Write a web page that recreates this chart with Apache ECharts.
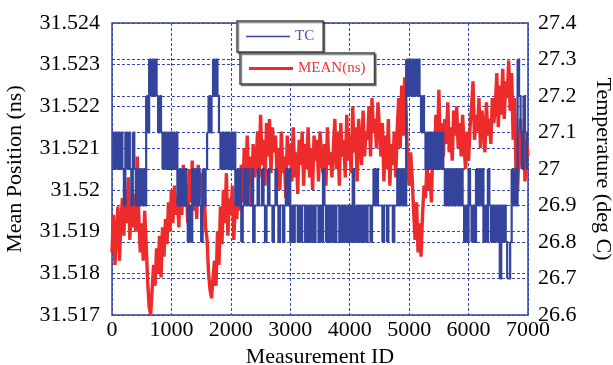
<!DOCTYPE html>
<html>
<head>
<meta charset="utf-8">
<script src="https://cdn.jsdelivr.net/npm/echarts@6/dist/echarts.min.js"></script>
<style>
  html, body { margin: 0; padding: 0; background: #fff; }
  #chart { width: 613px; height: 365px; }
</style>
</head>
<body>
<div id="chart"></div>
<script>
// one sample every STEP measurement ids, from 0 to 7000
const STEP = 25;

// MEAN(ns) as tenths of a picosecond above 31.517 ns
const meanOffset = [
  15, 24, 12, 20, 26, 13, 22,
  28, 19, 30, 22, 33, 18, 27, 21, 29, 20,
  38,
  24, 15, 22, 13, 25, 17,
  8, 2, 0, 6,
  12, 7, 16, 10, 19, 9, 21, 14, 23, 17,
  27, 20, 30, 22, 31, 24, 28, 21,
  33, 24, 36, 26, 31, 22, 35, 27, 37, 25, 32, 23, 36, 28, 34, 26, 30, 21,
  18, 10, 6, 4, 9, 13, 7,
  20, 12, 26, 17, 30, 22, 34, 19, 28, 24, 31, 18, 27, 23, 32, 25,
  36, 27, 40, 29, 43, 31, 38, 26, 41, 33, 37,
  44, 33, 48, 36, 42, 31, 46, 38, 47, 34, 45, 39, 43, 35,
  40, 30, 44, 34, 38, 28, 43, 36, 41, 32, 45, 33, 39, 29, 42,
  36, 44, 31, 41, 35, 45, 33, 40, 30, 43, 37, 42, 32, 44, 38, 34, 41, 31, 45, 36, 39, 33,
  40, 47, 35, 44, 31, 46, 38, 42, 33, 48, 37, 43, 34, 50, 39, 45, 32, 47, 41, 36, 49, 38, 44,
  42, 50, 38, 52, 44, 47, 40, 51, 45,
  38, 46, 32, 43, 35, 47, 31, 41, 36, 44, 33,
  45, 52, 40, 55, 43, 57, 48,
  36, 31, 39, 33,
  25, 18, 27, 15, 22, 14,
  24, 31, 28, 36, 30, 34, 27,
  42, 35, 48, 38, 54, 40, 46,
  38, 47, 41, 51, 39, 45, 37, 49, 43, 50, 40, 46, 38, 48,
  40, 35, 44, 37, 45,
  50, 56, 42, 48,
  44, 52, 40, 49, 45, 39, 51, 43, 47, 41, 52, 46,
  50, 58, 45, 55, 48, 59, 47, 56, 52, 61, 49,
  58, 42, 52,
  33, 30,
  40, 47, 35, 44, 32, 42, 38
];

// TC level codes: temperature = 26.6 + code * 0.1 deg C
const tcLevel = [
  5, 4, 5, 4, 5, 4, 5,
  4, 3,
  5, 4, 5,
  4, 3,
  5, 4,
  3, 4, 3, 4, 3, 4, 3,
  6, 5,
  7, 6, 7, 6, 7, 6,
  5, 6, 5,
  4, 5, 4, 5, 4, 5, 4, 5, 4, 5,
  3, 4, 3, 4, 3, 4, 3, 2,
  3, 2, 4, 3, 4, 3, 4, 3, 2, 4, 3, 4,
  5, 6, 5, 6,
  7, 6, 7, 6,
  5, 4, 5, 4, 5, 4, 5, 4, 5, 4, 5,
  3, 4, 3, 4, 2, 3, 4, 3,
  4, 3, 3, 4, 2, 3, 3, 4, 3, 3, 4, 3, 2,
  3, 4, 3, 3, 2, 3, 4, 3, 2, 3, 3,
  2, 3, 4, 3, 4, 2, 3, 2, 3, 3,
  2, 3, 2, 3, 3, 2, 3, 2, 3, 2,
  3, 2, 3, 3, 2, 3, 2, 4, 3, 2,
  3, 2, 3, 2, 3, 2, 3, 3, 2, 3,
  2, 3, 2, 3, 2, 3, 2, 4, 2, 3,
  2, 3, 2, 3, 2, 3, 2, 3, 3, 2, 3,
  4, 3, 4, 3,
  3, 3, 2, 3, 3, 2, 3, 3, 3, 2, 3, 3,
  4, 3, 4, 3, 4, 3,
  7, 6, 7, 6, 7, 6, 7, 6, 7,
  6, 5, 6,
  5, 4, 5, 4, 5, 4, 5, 4, 5, 4, 5, 4, 5,
  4, 3, 4, 3, 4, 3, 4, 3, 4, 3, 4, 3, 4,
  3, 2, 3, 2,
  4,
  3, 2, 3, 2,
  4, 3, 4, 3, 4, 2, 3, 2, 4,
  3, 2, 3, 2, 3, 2, 3,
  1,
  3, 2, 3, 2, 1, 1, 2,
  4, 3, 4, 3,
  7, 6,
  5, 4, 6, 5, 4, 5
];

const xRange = [0, 7000, 1000];
const meanRange = [31.517, 31.524, 0.001];
const tempRange = [26.6, 27.4, 0.1];

const FONT = 'Liberation Serif';
const BLUE = '#34449c';
const RED = '#ee2b2b';
const GRID = '#3848a8';

const meanData = meanOffset.map((u, i) => [i * STEP, 31.517 + u / 10000]);
const tcTemp = tcLevel.map(c => 26.6 + c / 10);
// each TC step: [id, temperature, temperature of the next sample]
const tcSteps = tcTemp.slice(0, -1).map((t, i) => [i * STEP, t, tcTemp[i + 1]]);

const chart = echarts.init(document.getElementById('chart'), null, { renderer: 'canvas' });

const dashed = { show: true, lineStyle: { color: GRID, type: [3, 2], width: 1 } };
const legendBox = {
  orient: 'horizontal',
  icon: 'rect',
  itemWidth: 44,
  itemGap: 5,
  padding: [8, 9, 8, 9],
  backgroundColor: '#fff',
  borderColor: '#444',
  borderWidth: 1.5,
  borderRadius: 0,
  shadowColor: 'rgba(0,0,0,0.45)',
  shadowOffsetX: 1.5,
  shadowOffsetY: 1.5,
  selectedMode: false,
  textStyle: { fontFamily: FONT, fontSize: 15, lineHeight: 14 }
};

chart.setOption({
  animation: false,
  backgroundColor: '#fff',
  grid: {
    left: 112, right: 85, top: 23, bottom: 50,
    containLabel: false,
    outerBoundsMode: 'none',
    show: true, borderColor: BLUE, borderWidth: 1.5
  },
  legend: [
    Object.assign({}, legendBox, {
      left: 237, top: 21, itemHeight: 1.5,
      data: [{ name: 'TC', textStyle: { color: '#4858aa' } }]
    }),
    Object.assign({}, legendBox, {
      left: 240, top: 53, itemHeight: 3,
      data: [{ name: 'MEAN(ns)', textStyle: { color: '#ee3333' } }]
    })
  ],
  xAxis: {
    type: 'value',
    min: xRange[0], max: xRange[1], interval: xRange[2],
    name: 'Measurement ID',
    nameLocation: 'middle',
    nameGap: 29,
    nameTextStyle: { fontFamily: FONT, fontSize: 22, color: '#000' },
    axisLine: { show: false },
    axisTick: { show: false },
    axisLabel: {
      fontFamily: FONT, fontSize: 22, color: '#000', margin: 4,
      formatter: v => String(v)
    },
    splitLine: dashed
  },
  yAxis: [
    {
      type: 'value',
      position: 'left',
      min: meanRange[0], max: meanRange[1], interval: meanRange[2],
      name: 'Mean Position (ns)',
      nameLocation: 'middle',
      nameGap: 86,
      nameTextStyle: { fontFamily: FONT, fontSize: 22, color: '#000' },
      axisLine: { show: false },
      axisTick: { show: false },
      axisLabel: {
        fontFamily: FONT, fontSize: 22, color: '#000', margin: 12,
        formatter: v => String(Math.round(v * 1000) / 1000)
      },
      splitLine: dashed
    },
    {
      type: 'value',
      position: 'right',
      min: tempRange[0], max: tempRange[1], interval: tempRange[2],
      name: 'Temperature (deg C)',
      nameLocation: 'middle',
      nameRotate: -90,
      nameGap: 64,
      nameTextStyle: { fontFamily: FONT, fontSize: 22, color: '#000' },
      axisLine: { show: false },
      axisTick: { show: false },
      axisLabel: {
        fontFamily: FONT, fontSize: 22, color: '#000', margin: 10,
        formatter: v => String(Math.round(v * 10) / 10)
      },
      splitLine: dashed
    }
  ],
  series: [
    {
      name: 'MEAN(ns)',
      type: 'line',
      yAxisIndex: 0,
      data: meanData,
      symbol: 'none',
      z: 2,
      lineStyle: { color: RED, width: 3.4 },
      itemStyle: { color: RED }
    },
    {
      // drawn as explicit steps so every short toggle keeps its vertical edge
      name: 'TC',
      type: 'custom',
      yAxisIndex: 1,
      data: tcSteps,
      encode: { x: 0, y: 1 },
      z: 3,
      clip: true,
      itemStyle: { color: BLUE },
      renderItem: (params, api) => {
        const id = api.value(0);
        const a = api.coord([id, api.value(1)]);
        const b = api.coord([id + STEP, api.value(1)]);
        const c = api.coord([id + STEP, api.value(2)]);
        return {
          type: 'polyline',
          shape: { points: [a, b, c] },
          style: { stroke: BLUE, lineWidth: 2.2, fill: null }
        };
      }
    }
  ]
});
</script>
</body>
</html>
